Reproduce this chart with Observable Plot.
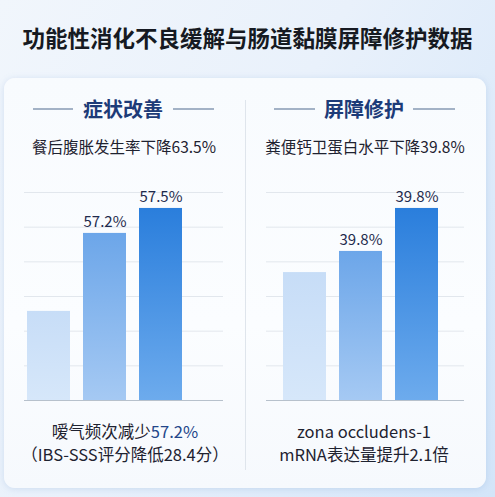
<!DOCTYPE html>
<html><head><meta charset="utf-8">
<script src="https://cdn.jsdelivr.net/npm/d3@7"></script>
<script src="https://cdn.jsdelivr.net/npm/@observablehq/plot@0.6"></script>
<style>
html,body{margin:0;padding:0;}
body{width:495px;height:497px;position:relative;overflow:hidden;font-family:"Noto Sans CJK SC","Noto Sans",sans-serif;
background:linear-gradient(120deg,#f1f6fc 0%,#e9f1fb 45%,#d3e5f9 100%);}
#title{position:absolute;left:0;top:21px;width:495px;text-align:center;font-size:22.5px;font-weight:700;color:#161a22;line-height:32px;}
#card{position:absolute;left:4px;top:78px;width:482px;height:410px;border-radius:11px;
background:linear-gradient(180deg,#f8fbfe 0%,#fbfdff 60%,#f6f9fd 100%);box-shadow:0 1px 6px rgba(120,160,210,0.25);}
#divider{position:absolute;left:245px;top:100px;width:1px;height:370px;background:#dfe5ec;}
.hdr{position:absolute;top:95px;width:230px;text-align:center;font-size:20px;font-weight:700;color:#1d3b78;line-height:28px;}
.hline{position:absolute;top:108px;height:1.5px;background:#a3b2c6;}
.sub{position:absolute;top:134px;width:240px;text-align:center;font-size:15.5px;color:#1e2230;line-height:24px;}
.bot{position:absolute;width:240px;text-align:center;font-size:16.5px;color:#1e2230;line-height:22px;white-space:nowrap;}
.chart{position:absolute;}
</style></head>
<body>
<div id="title"></div>
<div id="card"></div>
<div id="divider"></div>
<div class="hline" style="left:33px;width:40px"></div>
<div class="hline" style="left:173px;width:41px"></div>
<div class="hline" style="left:274px;width:41px"></div>
<div class="hline" style="left:413px;width:42px"></div>
<div class="hdr" id="h1" style="left:8px"></div>
<div class="hdr" id="h2" style="left:249px"></div>
<div class="sub" id="s1" style="left:4px"></div>
<div class="sub" id="s2" style="left:245px"></div>
<div class="bot" id="b1a" style="left:5px;top:420px"></div>
<div class="bot" id="b1b" style="left:5px;top:443px"></div>
<div class="bot" id="b2a" style="left:244px;top:420px"></div>
<div class="bot" id="b2b" style="left:244px;top:443px"></div>
<div class="chart" id="c1" style="left:24px;top:172px"></div>
<div class="chart" id="c2" style="left:266px;top:172px"></div>
<script>
const titleText = "功能性消化不良缓解与肠道黏膜屏障修护数据";
const panelTitles = ["症状改善", "屏障修护"];
const panelSubtitles = ["餐后腹胀发生率下降63.5%", "粪便钙卫蛋白水平下降39.8%"];
const categories = ["A", "B", "C"];
const leftValues = [25.7, 48.2, 55.4];
const leftLabels = ["", "57.2%", "57.5%"];
const rightValues = [36.9, 43.0, 55.4];
const rightLabels = ["", "39.8%", "39.8%"];
const gridTicks = [10, 20, 30, 40, 50, 60];
const leftNotePlain = "嗳气频次减少";
const leftNoteHighlight = "57.2%";
const leftNote2 = "（IBS-SSS评分降低28.4分）";
const rightNote1 = "zona occludens-1";
const rightNote2 = "mRNA表达量提升2.1倍";

document.getElementById("title").textContent = titleText;
document.getElementById("h1").textContent = panelTitles[0];
document.getElementById("h2").textContent = panelTitles[1];
document.getElementById("s1").textContent = panelSubtitles[0];
document.getElementById("s2").textContent = panelSubtitles[1];
const b1a = document.getElementById("b1a");
b1a.append(leftNotePlain);
const hl = document.createElement("span"); hl.style.color = "#23468a"; hl.textContent = leftNoteHighlight; b1a.append(hl);
document.getElementById("b1b").textContent = leftNote2;
document.getElementById("b2a").textContent = rightNote1;
document.getElementById("b2b").textContent = rightNote2;

const grads = [
  ["#c7ddf7", "#d6e7fa"],
  ["#6ca6e9", "#a5c9f3"],
  ["#2a7edc", "#6dabed"]
];

function makeChart(id, values, labels, width, align, prefix) {
  const data = categories.map((c, i) => ({cat: c, value: values[i], label: labels[i], idx: i}));
  const barMarks = data.map(d => Plot.barY([d], {x: "cat", y: "value", fill: `url(#${prefix}${d.idx})`}));
  const svg = Plot.plot({
    width: width, height: 230,
    marginTop: 20, marginBottom: 2, marginLeft: 0, marginRight: 0,
    style: {fontFamily: "'Noto Sans CJK SC','Noto Sans',sans-serif", background: "transparent"},
    x: {domain: categories, axis: null, paddingInner: 0.228, paddingOuter: 0.36, align: align},
    y: {domain: [0, 60], axis: null},
    marks: [
      Plot.ruleY(gridTicks, {stroke: "#e2e7ed", strokeWidth: 1}),
      ...barMarks,
      Plot.ruleY([0], {stroke: "#b7c1cc", strokeWidth: 1.2}),
      Plot.text(data.filter(d => d.label), {x: "cat", y: "value", text: "label", dy: -11, fontSize: 15, fill: "#1f2b4d"})
    ]
  });
  const ns = "http://www.w3.org/2000/svg";
  const defs = document.createElementNS(ns, "defs");
  grads.forEach((g, i) => {
    const lg = document.createElementNS(ns, "linearGradient");
    lg.setAttribute("id", prefix + i);
    lg.setAttribute("x1", "0"); lg.setAttribute("y1", "0"); lg.setAttribute("x2", "0"); lg.setAttribute("y2", "1");
    const s1 = document.createElementNS(ns, "stop"); s1.setAttribute("offset", "0"); s1.setAttribute("stop-color", g[0]);
    const s2 = document.createElementNS(ns, "stop"); s2.setAttribute("offset", "1"); s2.setAttribute("stop-color", g[1]);
    lg.append(s1, s2); defs.append(lg);
  });
  svg.insertBefore(defs, svg.firstChild);
  document.getElementById(id).append(svg);
}
makeChart("c1", leftValues, leftLabels, 199, 0.073, "gl");
makeChart("c2", rightValues, rightLabels, 198, 0.4, "gr");
</script>
</body></html>
